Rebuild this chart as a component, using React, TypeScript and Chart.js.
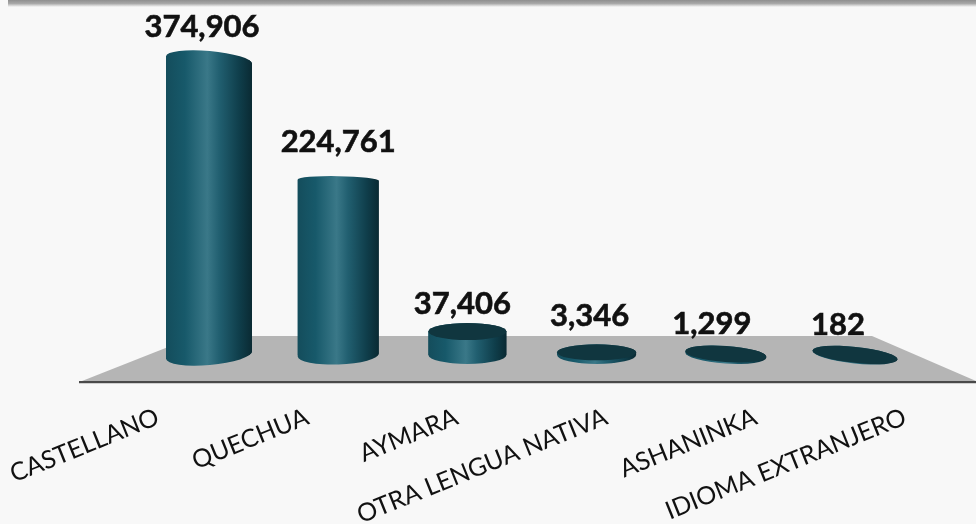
import React, { useEffect, useRef } from "react";
import { Chart, registerables } from "chart.js";

Chart.register(...registerables);

const categories = ["CASTELLANO", "QUECHUA", "AYMARA", "OTRA LENGUA NATIVA", "ASHANINKA", "IDIOMA EXTRANJERO"];
const values = [374906, 224761, 37406, 3346, 1299, 182];

// styling only: perspective look of every cylinder
const barWidths = [86, 81, 78, 79, 81, 85];
const baseTilt = [-5, -2, 0, 0, 4, 6];
const baseRy = [10, 9.5, 9, 9, 8.5, 8.5];
const capTilt = [5, 1, 0, 0, 4, 6];
const capRy = [9, 4, 8.5, 8, 8, 8];
const capIsDisc = [false, false, true, true, true, true];
const capDrop = [0, 2, 6, 0, 0, 0];
const labelDx = [-7, 0, -5, -7, -14, -17];
const labelDy = [-33, -36, -22, -36, -30, -30];

const BG = "#f8f8f8";
const rad = (d: number) => (d * Math.PI) / 180;

function bodyGradient(ctx: CanvasRenderingContext2D, xl: number, xr: number) {
  const g = ctx.createLinearGradient(xl, 0, xr, 0);
  g.addColorStop(0, "#144d5c");
  g.addColorStop(0.22, "#17596a");
  g.addColorStop(0.48, "#3a7888");
  g.addColorStop(0.62, "#215f70");
  g.addColorStop(0.85, "#0f3e4b");
  g.addColorStop(1, "#0a2a33");
  return g;
}

function bodyPath(ctx: CanvasRenderingContext2D, cx: number, capY: number, baseY: number, i: number) {
  const half = barWidths[i] / 2;
  const tc = rad(capTilt[i]);
  const tb = rad(baseTilt[i]);
  const lx = cx - half;
  ctx.moveTo(lx, capY - half * Math.tan(tc));
  ctx.ellipse(cx, capY, half / Math.cos(tc), capRy[i], tc, Math.PI, Math.PI * 2);
  ctx.lineTo(cx + half, baseY + half * Math.tan(tb));
  ctx.ellipse(cx, baseY, half / Math.cos(tb), baseRy[i], tb, 0, Math.PI);
  ctx.closePath();
}

const scenePlugin = {
  id: "scene",
  afterDatasetsUpdate(chart: any) {
    const meta = chart.getDatasetMeta(0);
    meta.data.forEach((el: any, i: number) => {
      el.width = barWidths[i];
      el.y += capDrop[i];
    });
  },
  beforeDraw(chart: any) {
    const { ctx, width, height } = chart;
    ctx.save();
    ctx.fillStyle = BG;
    ctx.fillRect(0, 0, width, height);
    const band = ctx.createLinearGradient(0, 0, 0, 7);
    band.addColorStop(0, "#8f8f8f");
    band.addColorStop(0.5, "#a8a8a8");
    band.addColorStop(1, BG);
    ctx.fillStyle = band;
    ctx.fillRect(8, 0, width - 8, 7);
    ctx.restore();
  },
  beforeDatasetsDraw(chart: any) {
    const { ctx, width } = chart;
    const base = chart.scales.y.getPixelForValue(0);
    const meta = chart.getDatasetMeta(0);
    ctx.save();
    // floor
    ctx.fillStyle = "#b5b5b5";
    ctx.beginPath();
    ctx.moveTo(82, base + 26);
    ctx.lineTo(196, base - 19);
    ctx.lineTo(872, base - 19);
    ctx.lineTo(width, base + 26);
    ctx.closePath();
    ctx.fill();
    ctx.fillStyle = "#4a4a4a";
    ctx.fillRect(79, base + 26, width - 79, 2);
    ctx.fillStyle = "#cfcfcf";
    ctx.fillRect(79, base + 28, width - 79, 1);
    // rounded cylinder outlines under the library's bars
    meta.data.forEach((el: any, i: number) => {
      const w = barWidths[i];
      ctx.fillStyle = bodyGradient(ctx, el.x - w / 2, el.x + w / 2);
      ctx.beginPath();
      bodyPath(ctx, el.x, el.y, base, i);
      ctx.fill();
    });
    // keep the square bar corners inside the rounded outline
    ctx.beginPath();
    meta.data.forEach((el: any, i: number) => bodyPath(ctx, el.x, el.y, base, i));
    ctx.clip();
  },
  afterDatasetsDraw(chart: any) {
    const { ctx } = chart;
    ctx.restore();
    const meta = chart.getDatasetMeta(0);
    ctx.save();
    meta.data.forEach((el: any, i: number) => {
      if (!capIsDisc[i]) return;
      const t = rad(capTilt[i]);
      ctx.beginPath();
      ctx.ellipse(el.x, el.y, barWidths[i] / 2 / Math.cos(t), capRy[i], t, 0, Math.PI * 2);
      ctx.fillStyle = "#10363f";
      ctx.fill();
    });
    ctx.fillStyle = "#111111";
    ctx.strokeStyle = "#111111";
    ctx.lineWidth = 0.6;
    ctx.font = "bold 31px Lato";
    ctx.textAlign = "center";
    ctx.textBaseline = "middle";
    meta.data.forEach((el: any, i: number) => {
      const s = values[i].toLocaleString("en-US");
      const lx = el.x + labelDx[i];
      const ly = el.y - capDrop[i] + labelDy[i];
      ctx.fillText(s, lx, ly);
      ctx.strokeText(s, lx, ly);
    });
    ctx.restore();
  },
};

export default function App() {
  const ref = useRef<HTMLCanvasElement>(null);
  useEffect(() => {
    document.body.style.margin = "0";
    document.body.style.background = BG;
    const chart = new Chart(ref.current as HTMLCanvasElement, {
      type: "bar",
      data: {
        labels: categories,
        datasets: [
          {
            data: values,
            xAxisID: "x",
            yAxisID: "y",
            barThickness: 80,
            borderWidth: 0,
            backgroundColor: (c: any) => {
              if (c.type !== "data") return "#17596a";
              const cx = c.chart.scales.x.getPixelForValue(c.dataIndex);
              if (!Number.isFinite(cx)) return "#17596a";
              const w = barWidths[c.dataIndex];
              return bodyGradient(c.chart.ctx, cx - w / 2, cx + w / 2);
            },
          },
        ],
      },
      options: {
        responsive: false,
        animation: false,
        layout: { padding: { top: 60, left: 144.4, right: 56.4, bottom: 0 } },
        plugins: { legend: { display: false }, tooltip: { enabled: false } },
        scales: {
          x: { type: "category", display: false, offset: true },
          y: { display: false, min: 0, max: 374906 },
          xLabels: {
            type: "linear",
            position: "bottom",
            bounds: "data",
            offset: false,
            min: -0.09,
            max: 5.097,
            grid: { display: false, drawTicks: false, offset: false },
            border: { display: false },
            afterBuildTicks: (s: any) => {
              s.ticks = categories.map((_, i) => ({ value: i }));
            },
            afterFit: (s: any) => {
              s.height = 169;
              s.paddingLeft = 0;
              s.paddingRight = 0;
            },
            ticks: {
              autoSkip: false,
              minRotation: 22,
              maxRotation: 22,
              padding: 47,
              color: "#111111",
              font: { family: "Lato", size: 25 },
              callback: (v: any) => categories[v as number],
            },
          },
        },
      },
      plugins: [scenePlugin],
    } as any);
    return () => chart.destroy();
  }, []);
  return <canvas ref={ref} width={976} height={524} style={{ display: "block" }} />;
}
